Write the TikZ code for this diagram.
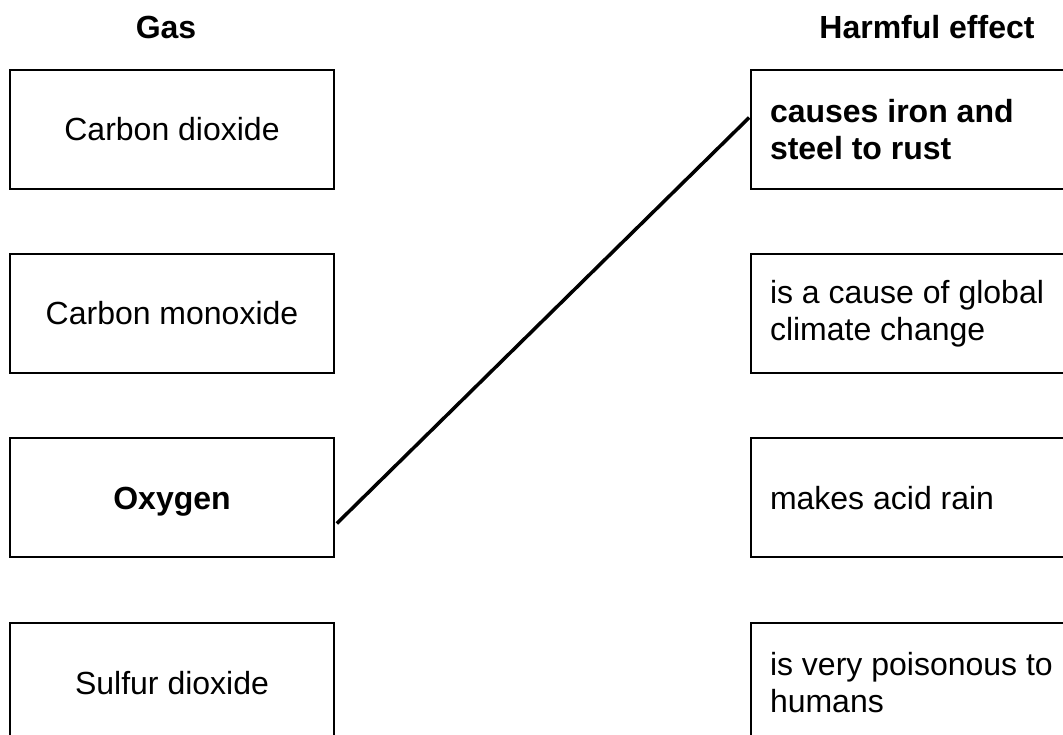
\documentclass[tikz,border=0pt]{standalone}
\usepackage{fontspec}
\setmainfont{Liberation Sans}
\begin{document}
\begin{tikzpicture}[x=1pt,y=-1pt,
  txt/.style={font=\fontsize{32}{37}\selectfont},
  gasbox/.style={draw,line width=1.6pt,txt,minimum width=324pt,minimum height=119pt,inner sep=0pt,align=center,text height=29pt,text depth=6pt},
  effbox/.style={draw,line width=1.6pt,txt,minimum width=339pt,minimum height=119pt,inner xsep=19pt,inner ysep=0pt,text width=301pt,align=flush left},
  onebox/.style={effbox,text height=29pt,text depth=6pt},
  head/.style={txt,font=\fontsize{32}{37}\selectfont\bfseries},
  link/.style={line width=3.5pt}]
\useasboundingbox (0,0) rectangle (1063,735);
\node[head] (hgas) at (166,27) {Gas};
\node[head] (heff) at (927,27) {Harmful effect};
\node[gasbox] (co2) at (172,129.5) {Carbon dioxide};
\node[gasbox] (co) at (172,313.5) {Carbon monoxide};
\node[gasbox] (oxy) at (172,497.5) {\bfseries Oxygen};
\node[gasbox] (so2) at (172,682.5) {Sulfur dioxide};
\node[effbox] (rust) at (920.5,129.5) {\bfseries causes iron and\\steel to rust};
\node[effbox] (clim) at (920.5,313.5) {is a cause of global\\climate change};
\node[onebox] (acid) at (920.5,497.5) {makes acid rain};
\node[effbox] (pois) at (920.5,682.5) {is very poisonous to\\humans};
\draw[link] ([shift={(2pt,-26pt)}]oxy.east) -- ([shift={(-1pt,12pt)}]rust.west);
\end{tikzpicture}
\end{document}
